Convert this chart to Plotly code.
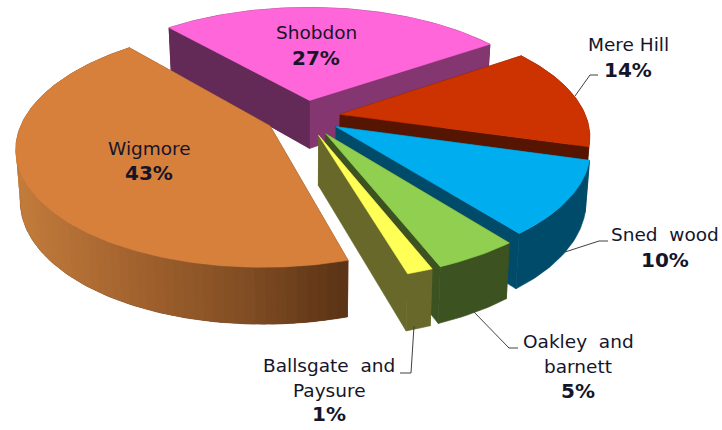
import numpy as np
import plotly.graph_objects as go

# ---- data ----
names = ["Shobdon", "Mere Hill", "Sned wood", "Oakley and barnett", "Ballsgate and Paysure", "Wigmore"]
shares = [26.8, 14.0, 10.0, 4.6, 1.4, 43.2]

# ---- styles ----
top_colors = ["#FF66D9", "#CC3300", "#00AEEF", "#90CF50", "#FFFF55", "#D6803C"]
left_face = ["#642A57", "#551500", "#004A6A", "#3C5220", "#68682A", "#6A3A18"]
right_face = ["#833670", "#551500", "#004A6A", "#3C5220", "#68682A", "#6A3A18"]
explode = [0.15, 0.145, 0.15, 0.165, 0.165, 0.16]
W, H = 722, 430
X0, Y0, RX, RY, K = 305, 117, 246, 114, 0.17
DEPTH, START = 49, 131


def project(u, v, low=False):
    s = 1 - K * v
    x = X0 + RX * u / s
    y = Y0 + RY * v / s
    if low:
        x = X0 + (x - X0) * 0.985
        y = y + DEPTH * (1 + 0.15 * v)
    return x, y


def add_poly(fig, x, y, color, lw=0.6):
    fig.add_trace(go.Scatter(x=list(x) + [x[0]], y=list(y) + [y[0]], mode="lines", fill="toself",
                             fillcolor=color, line=dict(color=color, width=lw),
                             hoverinfo="skip", showlegend=False))


def mix(stops, t):
    xs = [s[0] for s in stops]
    rgb = [np.interp(t, xs, [s[1][i] for s in stops]) for i in range(3)]
    return "rgb(%d,%d,%d)" % tuple(rgb)


WIG_STOPS = [(0, (196, 125, 60)), (0.35, (165, 100, 48)), (0.7, (130, 78, 36)), (1, (92, 52, 22))]

fig = go.Figure()
total = sum(shares)
a0 = START
for i, val in enumerate(shares):
    sweep = 360 * val / total
    a1 = a0 - sweep
    mid = np.radians((a0 + a1) / 2)
    au, av = explode[i] * np.cos(mid), -explode[i] * np.sin(mid)
    th = np.radians(np.linspace(a0, a1, max(int(sweep), 6) + 1))
    pu, pv = au + np.cos(th), av - np.sin(th)
    tx, ty = project(pu, pv)
    lx, ly = project(pu, pv, True)
    ax, ay = project(au, av)
    bx, by = project(au, av, True)
    # radial walls
    add_poly(fig, [ax, tx[-1], lx[-1], bx], [ay, ty[-1], ly[-1], by], right_face[i])
    add_poly(fig, [ax, tx[0], lx[0], bx], [ay, ty[0], ly[0], by], left_face[i])
    # outer wall
    wall = right_face[i] if i != 0 else left_face[i]
    add_poly(fig, list(tx) + list(lx[::-1]), list(ty) + list(ly[::-1]), wall)
    if names[i] == "Wigmore":
        # gradient bands over the base wall, following the arc
        for j in range(0, len(th) - 1, 2):
            k = min(j + 3, len(th) - 1)
            c = mix(WIG_STOPS, np.clip((tx[j] - 14) / (348 - 14), 0, 1))
            add_poly(fig, [tx[j], tx[k], lx[k], lx[j]], [ty[j], ty[k], ly[k], ly[j]], c, 0)
    if names[i] == "Shobdon":
        # the wall right of the apex sits in front of the outer wall at the back
        add_poly(fig, [ax, tx[-1], lx[-1], bx], [ay, ty[-1], ly[-1], by], right_face[i])
        add_poly(fig, [ax, tx[0], lx[0], bx], [ay, ty[0], ly[0], by], left_face[i])
    # top
    add_poly(fig, [ax] + list(tx), [ay] + list(ty), top_colors[i])
    a0 = a1

# ---- leader lines ----
leaders = [
    ([575, 590, 598], [96, 75, 75]),
    ([565, 599, 608], [252, 241, 241]),
    ([473, 509, 518], [311, 348, 348]),
    ([414, 411, 400], [326, 373, 373]),
]
for lxs, lys in leaders:
    fig.add_trace(go.Scatter(x=lxs, y=lys, mode="lines", line=dict(color="#404040", width=1),
                             hoverinfo="skip", showlegend=False))

# ---- labels ----
label_lines = [
    (["Shobdon"], 316, [32, 58]),
    (["Mere Hill"], 628, [44, 70]),
    (["Sned  wood"], 665, [234, 260]),
    (["Oakley  and", "barnett"], 578, [341, 366, 391]),
    (["Ballsgate  and", "Paysure"], 329, [365, 390, 414]),
    (["Wigmore"], 149, [148, 173]),
]
FONT = "DejaVu Sans"
anns = []
for (lines, x, ys), val in zip(label_lines, shares):
    texts = lines + ["<b>%d%%</b>" % round(val)]
    for t, y in zip(texts, ys):
        is_pct = t.startswith("<b>")
        anns.append(dict(x=x, y=y, xref="x", yref="y", text=t, showarrow=False, xanchor="center",
                         yanchor="middle", font=dict(family=FONT, size=20 if is_pct else 18.5, color="#15152A")))

fig.update_layout(width=W, height=H, margin=dict(l=0, r=0, t=0, b=0), paper_bgcolor="white",
                  plot_bgcolor="white", showlegend=False, annotations=anns,
                  xaxis=dict(range=[0, W], visible=False, fixedrange=True),
                  yaxis=dict(range=[H, 0], visible=False, fixedrange=True))
fig.write_html("out.html", config=dict(displayModeBar=False),
               post_script="document.body.style.margin='0';document.body.style.overflow='hidden';")
